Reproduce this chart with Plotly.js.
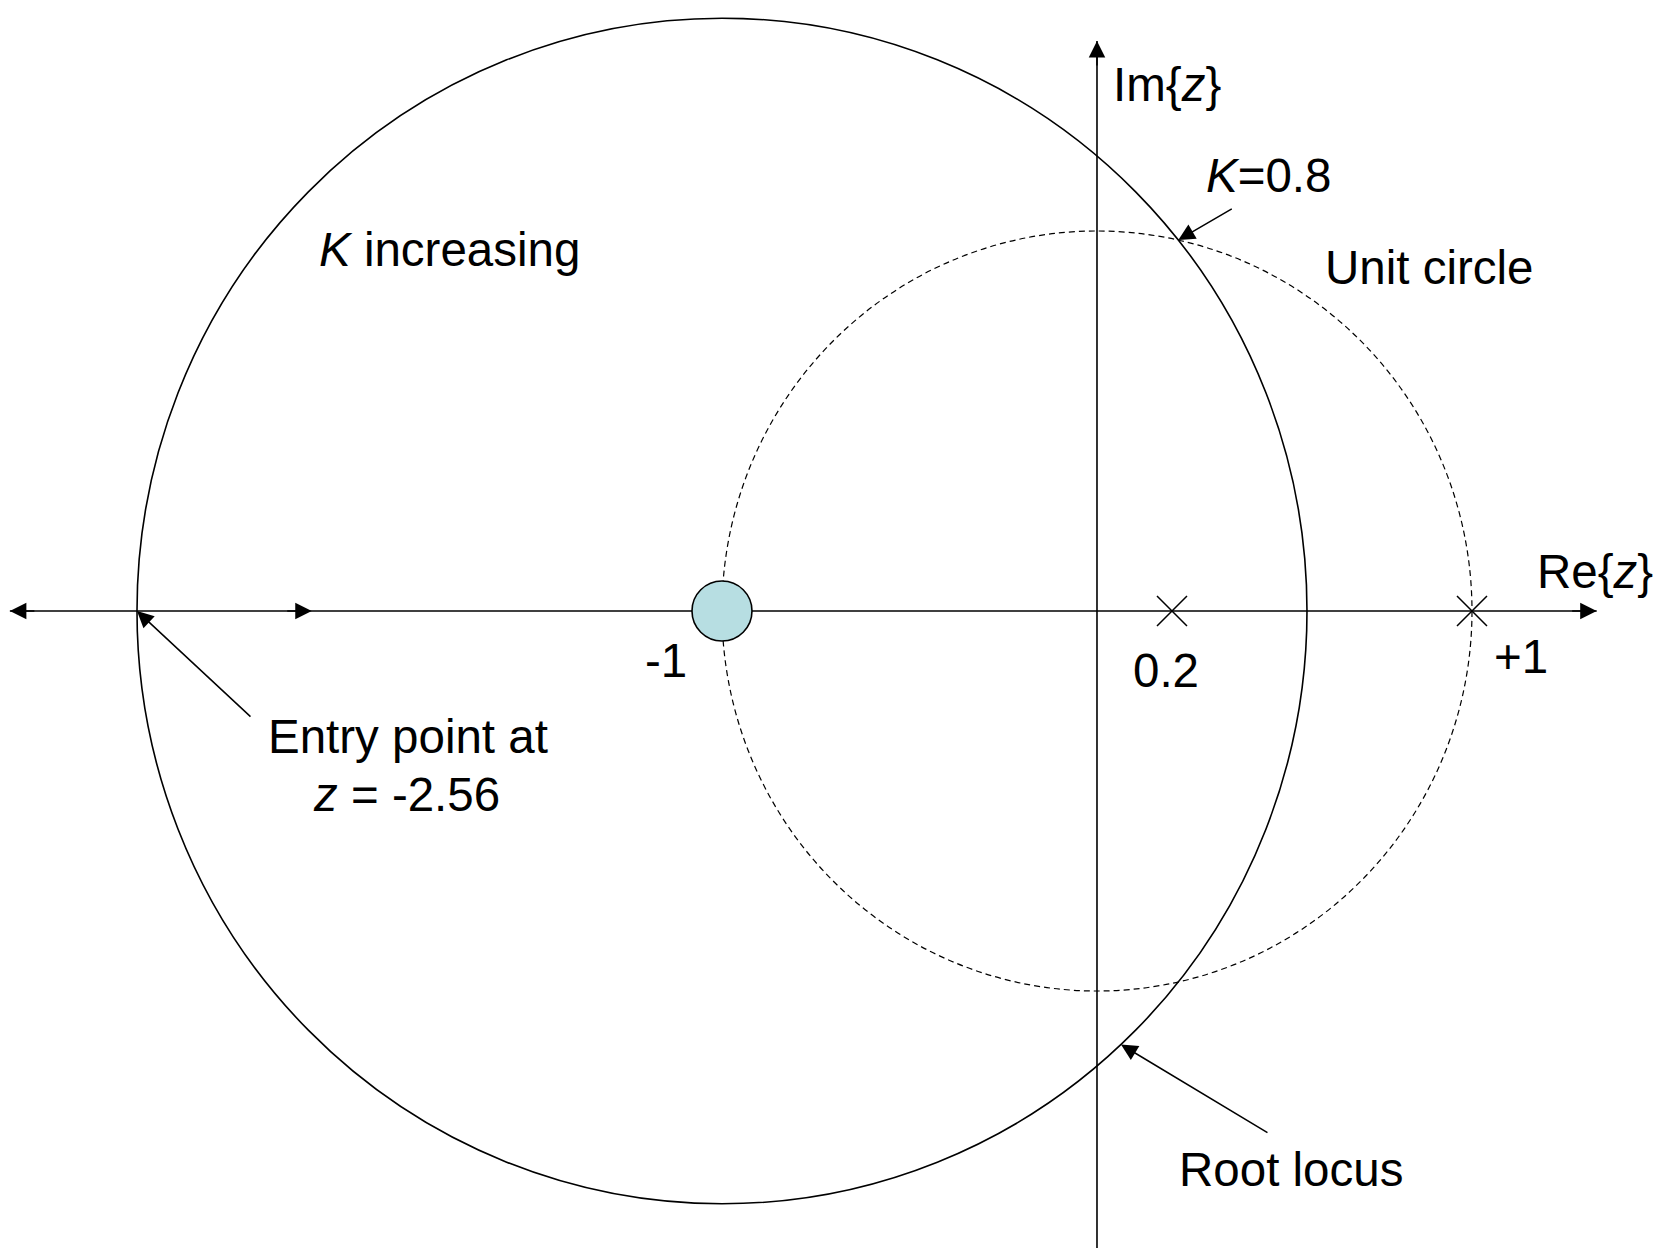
<!DOCTYPE html>
<html>
<head>
<meta charset="utf-8">
<script src="https://cdn.plot.ly/plotly-3.0.1.min.js"></script>
<style>
  html, body { margin: 0; padding: 0; background: #ffffff; }
  #plot { width: 1671px; height: 1248px; }
</style>
</head>
<body>
<div id="plot"></div>
<script>
// Open-loop poles and zero of the loop transfer function (z-plane)
const poleRe = [0.2, 1];
const poleIm = [0, 0];
const zeroRe = [-1];
const zeroIm = [0];
// Real-axis entry (break-in) point of the root locus
const entryPoint = -2.56;
// Gain where the locus meets the unit circle
const kCross = 0.8;
// Labels written under the real axis, one per pole/zero value
const realLabelValues = [-1, 0.2, 1];
const realLabelTexts = ['-1', '0.2', '+1'];

// ---- geometry derived from the data ----
const locusCentre = zeroRe[0];
const locusRadius = locusCentre - entryPoint;          // circle through the entry point
// intersection of |z| = 1 with |z - c| = r  (c = -1)
const crossRe = (locusRadius * locusRadius - 2) / 2;
const crossIm = Math.sqrt(1 - crossRe * crossRe);
// point on the locus circle picked out by the "Root locus" pointer
const pointerAngle = -47 * Math.PI / 180;
const pointerRe = locusCentre + locusRadius * Math.cos(pointerAngle);
const pointerIm = locusRadius * Math.sin(pointerAngle);

// ---- drawing extents of the axes (layout only) ----
const xRange = [-2.9253, 1.5307];
const yRange = [-1.6763, 1.6079];
const reAxisLeft = -2.899, reAxisRight = 1.3325, reDirTip = -2.094;
const imAxisTop = 1.5, imAxisBottom = yRange[0];

const FONT = 'Liberation Sans, Arial, Helvetica, sans-serif';
const FS = 47.5;
const INK = '#000000';

const traces = [
  {
    type: 'scatter', mode: 'markers',
    x: zeroRe, y: zeroIm,
    marker: { symbol: 'circle', size: 60, color: '#b7dee2', line: { color: INK, width: 1.6 } },
    hoverinfo: 'skip', showlegend: false
  },
  {
    type: 'scatter', mode: 'markers',
    x: poleRe, y: poleIm,
    marker: { symbol: 'x-thin', size: 30, color: INK, line: { color: INK, width: 1.5 } },
    hoverinfo: 'skip', showlegend: false
  }
];

const shapes = [
  // root locus circle
  { type: 'circle', xref: 'x', yref: 'y', layer: 'below',
    x0: locusCentre - locusRadius, x1: locusCentre + locusRadius,
    y0: -locusRadius, y1: locusRadius,
    line: { color: INK, width: 1.6 } },
  // unit circle
  { type: 'circle', xref: 'x', yref: 'y', layer: 'below',
    x0: -1, x1: 1, y0: -1, y1: 1,
    line: { color: INK, width: 1.2, dash: '6px,4px' } },
  // real axis
  { type: 'line', xref: 'x', yref: 'y', layer: 'below',
    x0: reAxisLeft, x1: reAxisRight, y0: 0, y1: 0,
    line: { color: INK, width: 1.6 } },
  // imaginary axis
  { type: 'line', xref: 'x', yref: 'y', layer: 'below',
    x0: 0, x1: 0, y0: imAxisBottom, y1: imAxisTop,
    line: { color: INK, width: 1.6 } }
];

function head(x, y, ax, ay) {
  return { xref: 'x', yref: 'y', x: x, y: y, ax: ax, ay: ay, text: '',
    showarrow: true, arrowhead: 2, arrowsize: 2.2, arrowwidth: 1.5, arrowcolor: INK, standoff: 0 };
}
function label(text, x, y, opts) {
  return Object.assign({ xref: 'paper', yref: 'paper', x: x / 1671, y: 1 - y / 1248,
    xanchor: 'center', yanchor: 'middle', text: text, showarrow: false,
    font: { family: FONT, size: FS, color: INK } }, opts || {});
}

const annotations = [
  // axis arrowheads
  head(reAxisRight, 0, -26, 0),
  head(reAxisLeft, 0, 26, 0),
  head(reDirTip, 0, -26, 0),
  head(0, imAxisTop, 0, 26),
  // pointers
  head(entryPoint, 0, 115, 107),
  head(crossRe, crossIm, 55, -32),
  head(pointerRe, pointerIm, 148, 89),
  // axis titles and notes
  label('Im{<i>z</i>}', 1167, 85),
  label('Re{<i>z</i>}', 1595, 572),
  label('<i>K</i>=' + kCross, 1268, 176),
  label('<i>K</i> increasing', 449, 249),
  label('Unit circle', 1429, 267),
  label('Entry point at', 408, 736),
  label('<i>z</i> = ' + entryPoint, 406, 794),
  label('Root locus', 1291, 1169)
];
// value labels under the real axis
const labelShift = { '-1': -56, '0.2': -6, '+1': 49 };
const labelDrop = { '-1': 49, '0.2': 59, '+1': 45 };
realLabelValues.forEach(function (v, i) {
  const t = realLabelTexts[i];
  annotations.push({ xref: 'x', yref: 'y', x: v, y: 0, text: t, showarrow: false,
    xanchor: 'center', yanchor: 'middle', xshift: labelShift[t], yshift: -labelDrop[t],
    font: { family: FONT, size: FS, color: INK } });
});

const axisStyle = { visible: false, showgrid: false, zeroline: false, fixedrange: true };

const layout = {
  width: 1671, height: 1248,
  margin: { l: 0, r: 0, t: 0, b: 0 },
  paper_bgcolor: '#ffffff', plot_bgcolor: '#ffffff',
  xaxis: Object.assign({ range: xRange }, axisStyle),
  yaxis: Object.assign({ range: yRange }, axisStyle),
  shapes: shapes,
  annotations: annotations,
  showlegend: false
};

Plotly.newPlot('plot', traces, layout, { displayModeBar: false, staticPlot: true });
</script>
</body>
</html>
